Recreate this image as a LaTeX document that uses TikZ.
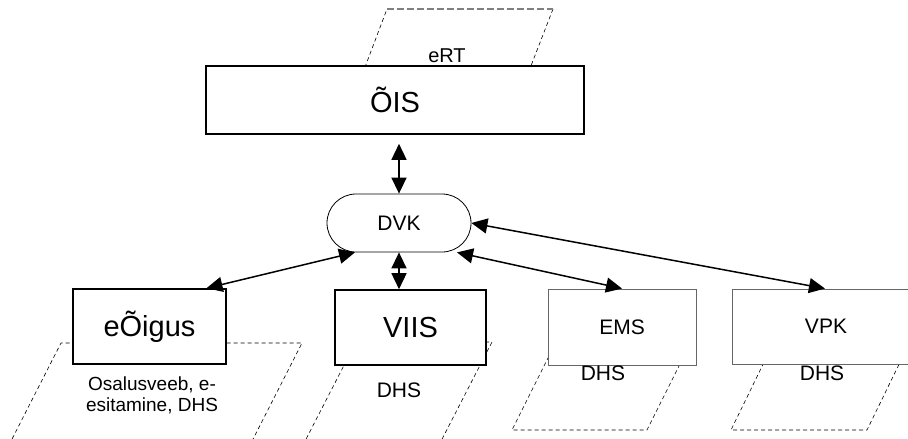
\documentclass[tikz,border=0pt]{standalone}
\usepackage{fontspec}
\setmainfont{Liberation Sans}
\usetikzlibrary{arrows.meta}
\begin{document}
\begin{tikzpicture}[x=1pt,y=-1pt,
    sysbox/.style={draw,line width=1.6pt,fill=white,inner sep=0pt,font=\fontsize{29}{34}\selectfont},
    extbox/.style={draw=black!60,line width=0.9pt,fill=white,inner sep=0pt,font=\fontsize{21}{24}\selectfont},
    hub/.style={draw,line width=0.8pt,fill=white,rounded corners=29pt,minimum width=144pt,minimum height=58pt,font=\fontsize{21}{24}\selectfont},
    note/.style={inner sep=0pt,font=\fontsize{21}{24}\selectfont},
    store/.style={line width=0.6pt,dash pattern=on 4pt off 3pt},
    link/.style={{Triangle[length=16pt,width=15pt]}-{Triangle[length=16pt,width=15pt]},line width=1.5pt}]
    \useasboundingbox (0,0) rectangle (908,439);
    \clip (0,0) rectangle (908,439);

    % dashed data stores
    \draw[store] (345,120) -- (387,9);
    \draw[store] (553,9) -- (510,120);
    \draw[store,draw=black!50,line width=1.2pt,dash pattern=on 7pt off 3pt] (387,9) -- (553,9);
    \draw[store] (9,445) -- (61,343) -- (302,343) -- (250,445);
    \draw[store] (303,445) -- (356,342) -- (492,342) -- (439,445);
    \draw[store] (552,350) -- (512,430) -- (647,430) -- (687,350);
    \draw[store] (770,350) -- (731,430) -- (867,430) -- (906,350);

    \node[sysbox,minimum width=378pt,minimum height=68pt] (ois) at (395,100) {ÕIS};
    \node[note,font=\fontsize{20}{24}\selectfont] (ert) at (447,56) {eRT};
    \node[hub] (dvk) at (399,223) {DVK};
    \node[sysbox,minimum width=153pt,minimum height=75pt] (eoigus) at (149.5,326.5) {eÕigus};
    \node[sysbox,minimum width=151pt,minimum height=75pt] (viis) at (410.5,327.5) {VIIS};
    \node[extbox,minimum width=148pt,minimum height=76pt] (ems) at (622,327) {EMS};
    \node[extbox,minimum width=188pt,minimum height=75pt] (vpk) at (826,326.5) {VPK};

    \node[note,align=center,font=\fontsize{19}{21}\selectfont] (lbeoigus) at (152,395) {Osalusveeb, e-\\esitamine, DHS};
    \node[note] (lbviis) at (399,390) {DHS};
    \node[note] (lbems) at (603,373) {DHS};
    \node[note] (lbvpk) at (822,373) {DHS};

    \draw[link,shorten <=9pt] (ois.south -| dvk.north) -- (dvk.north);
    \draw[link] (dvk.south) -- (dvk.south |- viis.north);
    \draw[link] ([xshift=-44pt]dvk.south) -- ([xshift=57pt]eoigus.north);
    \draw[link] ([xshift=58pt]dvk.south) -- (ems.north);
    \draw[link] (dvk.east) -- ([xshift=-1pt]vpk.north);
\end{tikzpicture}
\end{document}
